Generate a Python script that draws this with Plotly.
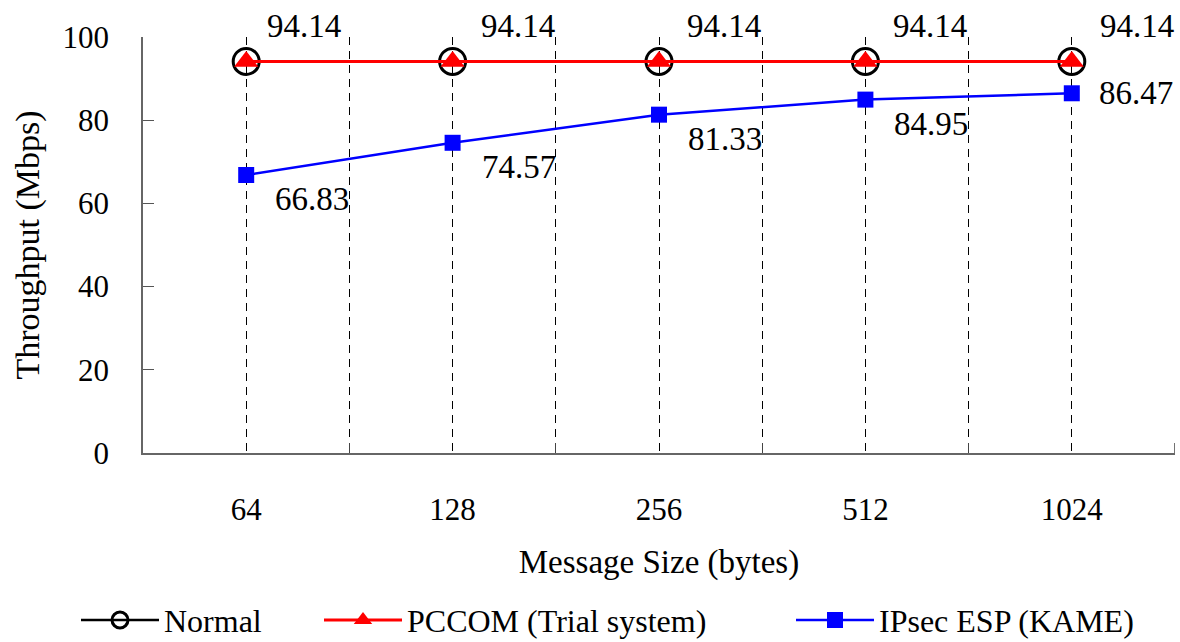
import plotly.graph_objects as go

# Throughput measurements per message size
message_sizes = ["64", "128", "256", "512", "1024"]
normal = [94.14, 94.14, 94.14, 94.14, 94.14]
pccom = [94.14, 94.14, 94.14, 94.14, 94.14]
ipsec = [66.83, 74.57, 81.33, 84.95, 86.47]
y_ticks = [0, 20, 40, 60, 80, 100]

FONT = "Liberation Serif"
GRID_DASH = "8px,6px"
idx = list(range(len(message_sizes)))
inner_bounds = [i + 0.5 for i in idx[:-1]]
right_edge = idx[-1] + 0.5

fig = go.Figure()
fig.add_trace(go.Scatter(
    x=idx, y=normal, name="Normal", mode="lines+markers", legend="legend",
    line=dict(color="black", width=2.5),
    marker=dict(symbol="circle-open", size=26, color="black", line=dict(width=3)),
))
fig.add_trace(go.Scatter(
    x=idx, y=pccom, name="PCCOM (Trial system)", mode="lines+markers", legend="legend2",
    line=dict(color="#ff0000", width=3),
    marker=dict(symbol="triangle-up", size=21, color="#ff0000"),
))
fig.add_trace(go.Scatter(
    x=idx, y=ipsec, name="IPsec ESP (KAME)", mode="lines+markers", legend="legend3",
    line=dict(color="#0000ff", width=2.5),
    marker=dict(symbol="square", size=16, color="#0000ff"),
))

# value labels
label_font = dict(family=FONT, size=33, color="black")
for i, v in enumerate(pccom):
    fig.add_annotation(x=i, y=v, text=f"{v:.2f}", showarrow=False,
                       xanchor="center", yanchor="middle",
                       xshift=58 if i == 0 else 65, yshift=35, font=label_font)
for i, v in enumerate(ipsec):
    last = i == len(ipsec) - 1
    fig.add_annotation(x=i, y=v, text=f"{v:.2f}", showarrow=False,
                       xanchor="center", yanchor="middle",
                       xshift=64 if last else 66, yshift=0 if last else -24,
                       font=label_font)

# closing tick at the right end of the category axis
fig.add_shape(type="line", xref="x", yref="y domain", x0=right_edge, x1=right_edge,
              y0=0, y1=0.024, line=dict(color="#444", width=1.5))

legend_common = dict(orientation="h", xref="container", yref="container", xanchor="left",
                     yanchor="middle", y=0.034, font=dict(family=FONT, size=32),
                     itemwidth=78, bgcolor="rgba(0,0,0,0)")

fig.update_layout(
    width=1180, height=642,
    margin=dict(l=143, r=5, t=37, b=189, autoexpand=False),
    paper_bgcolor="white", plot_bgcolor="white",
    font=dict(family=FONT, size=31, color="black"),
    showlegend=True,
    legend=dict(x=76 / 1180, **legend_common),
    legend2=dict(x=319 / 1180, **legend_common),
    legend3=dict(x=791 / 1180, **legend_common),
)
fig.update_xaxes(
    range=[-0.5, 4.5], tickvals=idx, ticktext=message_sizes,
    ticks="", showgrid=True, gridcolor="black", griddash=GRID_DASH, gridwidth=1,
    minor=dict(tickvals=inner_bounds, ticks="inside", ticklen=10, tickcolor="#444",
               showgrid=True, gridcolor="black", griddash=GRID_DASH, gridwidth=1),
    showline=True, linecolor="#666", linewidth=1.5, zeroline=False,
    automargin=False,
    ticklabelstandoff=28,
    title=dict(text="Message Size (bytes)", standoff=24, font=dict(size=33)),
    tickfont=dict(size=31),
)
fig.update_yaxes(
    range=[0, 100], tickvals=y_ticks, ticks="inside", ticklen=11, tickcolor="#555",
    showgrid=False, zeroline=False, showline=True, linecolor="#666", linewidth=1.5,
    automargin=False,
    ticklabelstandoff=26,
    title=dict(text="Throughput (Mbps)", standoff=13, font=dict(size=34)),
    tickfont=dict(size=31),
)

fig.write_html("out.html")
